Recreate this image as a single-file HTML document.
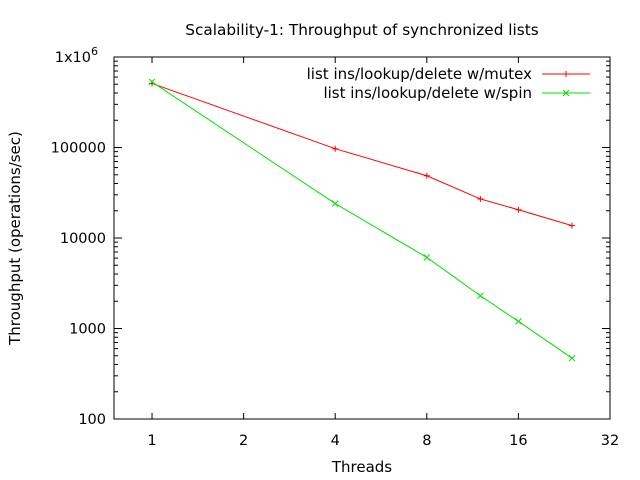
<!DOCTYPE html>
<html><head><meta charset="utf-8"><style>
body{margin:0;background:#fff}
svg{display:block;font-family:"DejaVu Sans","Liberation Sans",sans-serif}
</style></head><body>
<svg id="chart" width="640" height="480">
<text x="362" y="35" font-size="15.3" text-anchor="middle">Scalability-1: Throughput of synchronized lists</text>
<text x="362" y="472" font-size="15" text-anchor="middle">Threads</text>
<text transform="translate(20,238) rotate(-90)" font-size="15" text-anchor="middle">Throughput (operations/sec)</text>
<g id="axes"></g>
<g id="series"></g>
<g id="legend"></g>
</svg>
<script>
const threads=[1,4,8,12,16,24];
const mutexVals=[510000,97000,48700,27000,20500,13700];
const spinVals=[530000,24000,6100,2300,1200,470];
const xTicks=[1,2,4,8,16,32];
const yTicks=[100,1000,10000,100000,1000000];
const yTickLabels=["100","1000","10000","100000","1x10^6"];
const L=114,R=610,T=57,B=419;
const xMin=0.75,xMax=32,yMin=100,yMax=1e6;
const NS="http://www.w3.org/2000/svg";
function X(v){return L+(Math.log2(v)-Math.log2(xMin))/(Math.log2(xMax)-Math.log2(xMin))*(R-L);}
function Y(v){return B-(Math.log10(v)-Math.log10(yMin))/(Math.log10(yMax)-Math.log10(yMin))*(B-T);}
function mk(tag,attrs,parent){const e=document.createElementNS(NS,tag);for(const k in attrs)e.setAttribute(k,attrs[k]);parent.appendChild(e);return e;}
const axes=document.getElementById('axes');
const frame=mk('rect',{x:L,y:T,width:R-L,height:B-T,fill:'none',stroke:'#000','stroke-width':1},axes);


xTicks.forEach(v=>{const x=X(v);
 mk('line',{x1:x,y1:B,x2:x,y2:B-6,stroke:'#000'},axes);
 mk('line',{x1:x,y1:T,x2:x,y2:T+6,stroke:'#000'},axes);
 const t=mk('text',{x:x,y:B+26,'font-size':14.5,'text-anchor':'middle'},axes);t.textContent=v;
 
 
});
yTicks.forEach((v,i)=>{const y=Y(v);
 mk('line',{x1:L,y1:y,x2:L+8,y2:y,stroke:'#000'},axes);
 mk('line',{x1:R,y1:y,x2:R-8,y2:y,stroke:'#000'},axes);
 if(i<yTicks.length-1){for(let m=2;m<10;m++){const ym=Y(v*m);
  mk('line',{x1:L,y1:ym,x2:L+4,y2:ym,stroke:'#000'},axes);
  mk('line',{x1:R,y1:ym,x2:R-4,y2:ym,stroke:'#000'},axes);}}
 const t=mk('text',{x:L-8,y:y+5,'font-size':14.5,'text-anchor':'end'},axes);
 const lab=yTickLabels[i];
 if(lab.indexOf('^')>=0){const p=lab.split('^');t.textContent=p[0];const s=mk('tspan',{dy:-7,'font-size':11},t);s.textContent=p[1];t.setAttribute('x',L-16);}
 else t.textContent=lab;
 
 
});
const series=document.getElementById('series');
function plus(g,x,y,c){mk('path',{d:`M${x-3},${y}H${x+3}M${x},${y-3}V${y+3}`,stroke:c,'stroke-width':1},g);}
function cross(g,x,y,c){mk('path',{d:`M${x-3},${y-3}L${x+3},${y+3}M${x-3},${y+3}L${x+3},${y-3}`,stroke:c,'stroke-width':1},g);}
function draw(vals,color,marker,name){
 const g=mk('g',{},series);
 
 
 mk('polyline',{points:threads.map((t,i)=>X(t)+','+Y(vals[i])).join(' '),fill:'none',stroke:color,'stroke-width':1},g);
 threads.forEach((t,i)=>marker(g,X(t),Y(vals[i]),color));
}
draw(mutexVals,'#ff0000',plus,'mutex-series');
draw(spinVals,'#00e000',cross,'spin-series');
const lg=document.getElementById('legend');
[["list ins/lookup/delete w/mutex",'#ff0000',plus,74,'legend-entry-mutex'],["list ins/lookup/delete w/spin",'#00e000',cross,93,'legend-entry-spin']].forEach(d=>{
 const g=mk('g',{},lg);
 
 
 const t=mk('text',{x:532,y:d[3]+5,'font-size':15,'text-anchor':'end'},g);t.textContent=d[0];
 mk('line',{x1:542,y1:d[3],x2:590,y2:d[3],stroke:d[1]},g);
 d[2](g,566,d[3],d[1]);
});
</script>
</body></html>
